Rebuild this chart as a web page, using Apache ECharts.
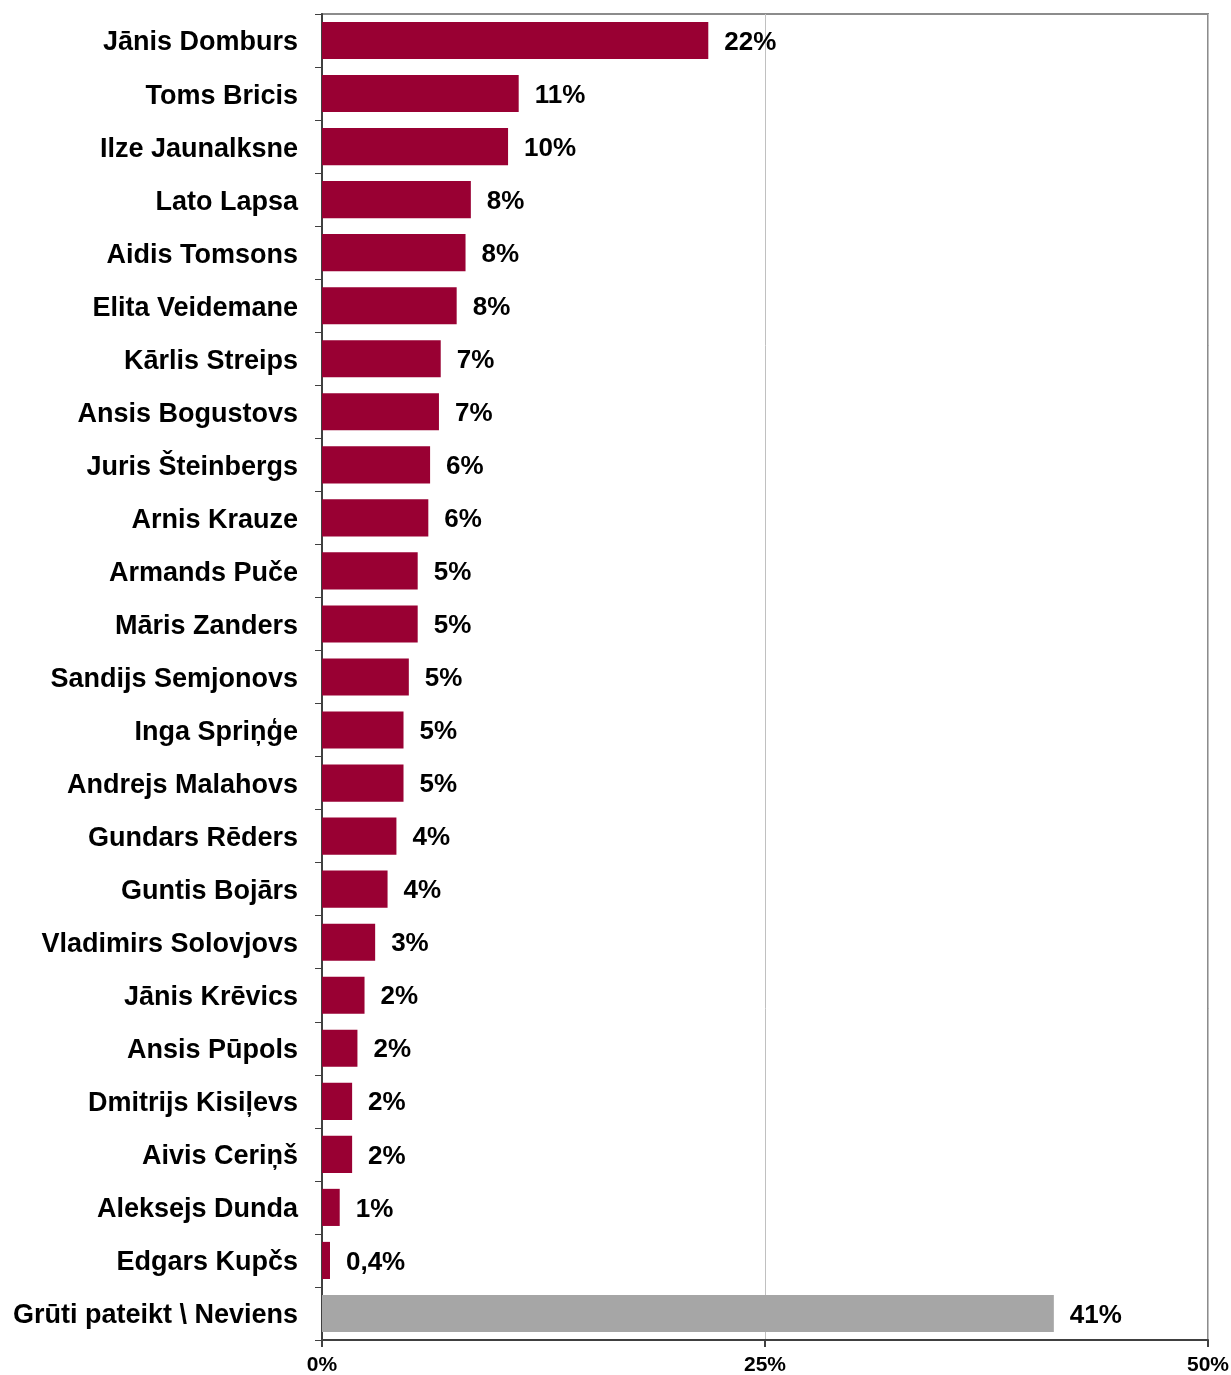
<!DOCTYPE html>
<html>
<head>
<meta charset="utf-8">
<script src="https://cdn.jsdelivr.net/npm/echarts@6/dist/echarts.min.js"></script>
<style>html,body{margin:0;padding:0;background:#fff}#c{width:1231px;height:1375px}</style>
</head>
<body>
<div id="c"></div>
<script>
var categories = ["Jānis Domburs","Toms Bricis","Ilze Jaunalksne","Lato Lapsa","Aidis Tomsons","Elita Veidemane","Kārlis Streips","Ansis Bogustovs","Juris Šteinbergs","Arnis Krauze","Armands Puče","Māris Zanders","Sandijs Semjonovs","Inga Spriņģe","Andrejs Malahovs","Gundars Rēders","Guntis Bojārs","Vladimirs Solovjovs","Jānis Krēvics","Ansis Pūpols","Dmitrijs Kisiļevs","Aivis Ceriņš","Aleksejs Dunda","Edgars Kupčs","Grūti pateikt \\ Neviens"];
var values = [21.8,11.1,10.5,8.4,8.1,7.6,6.7,6.6,6.1,6.0,5.4,5.4,4.9,4.6,4.6,4.2,3.7,3.0,2.4,2.0,1.7,1.7,1.0,0.45,41.3];
var valueLabels = ["22%","11%","10%","8%","8%","8%","7%","7%","6%","6%","5%","5%","5%","5%","5%","4%","4%","3%","2%","2%","2%","2%","1%","0,4%","41%"];
var xTicks = [0,25,50];

var FONT = "Liberation Sans, Arial, sans-serif";
var chart = echarts.init(document.getElementById('c'), null, {renderer:'canvas'});
var data = values.map(function(v,i){
  return {value:v, itemStyle:{color: i === values.length-1 ? '#A6A6A6' : '#990033'}};
});
chart.setOption({
  animation:false,
  grid:{left:322, top:14, right:23, bottom:35, show:true, borderColor:'#8c8c8c', borderWidth:2, containLabel:false, outerBoundsMode:'none'},
  xAxis:{
    type:'value', min:xTicks[0], max:xTicks[xTicks.length-1], interval:25,
    axisLine:{show:true, lineStyle:{color:'#404040', width:2}},
    axisTick:{show:true, length:7, lineStyle:{color:'#404040', width:2}},
    splitLine:{show:true, lineStyle:{color:'#c0c0c0', width:1}},
    axisLabel:{formatter:'{value}%', fontFamily:FONT, fontWeight:'bold', fontSize:21, color:'#000', margin:15}
  },
  yAxis:{
    type:'category', inverse:true, data:categories,
    axisLine:{show:true, lineStyle:{color:'#404040', width:2}},
    axisTick:{show:true, length:7, lineStyle:{color:'#404040', width:1}},
    axisLabel:{fontFamily:FONT, fontWeight:'bold', fontSize:27, color:'#000', margin:24, interval:0,
      formatter:function(v){return '{a|' + v + '}';},
      rich:{a:{fontFamily:FONT, fontWeight:'bold', fontSize:27, color:'#000', padding:[5,0,0,0]}}}
  },
  series:[{
    type:'bar', data:data, barCategoryGap:'30%',
    label:{show:true, position:'right', distance:16, offset:[0,2], fontFamily:FONT, fontWeight:'bold', fontSize:26, color:'#000',
      formatter:function(p){return valueLabels[p.dataIndex];}}
  }]
});
</script>
</body>
</html>
